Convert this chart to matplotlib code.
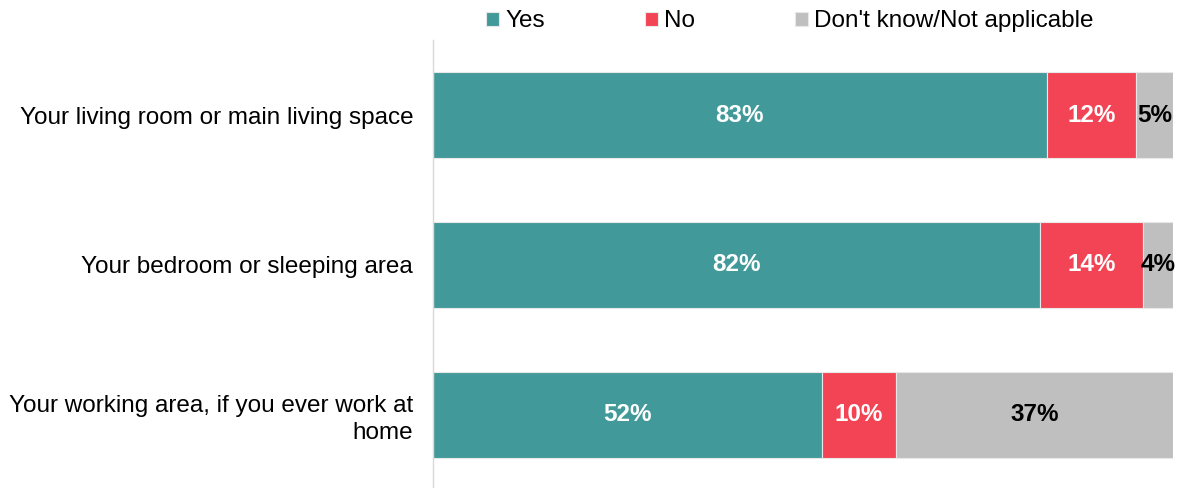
import matplotlib.pyplot as plt
import numpy as np

plt.rcParams['font.family'] = ['Liberation Sans', 'DejaVu Sans']

categories = ["Your living room or main living space",
              "Your bedroom or sleeping area",
              "Your working area, if you ever work at\nhome"]
series_names = ["Yes", "No", "Don't know/Not applicable"]
yes_pct = [83, 82, 52]
no_pct = [12, 14, 10]
dk_pct = [5, 4, 37]

colors = ["#419A99", "#F24455", "#BFBFBF"]
text_colors = ["white", "white", "black"]

fig = plt.figure(figsize=(11.79, 4.88), dpi=100)
ax = fig.add_axes([0.367, 0.0, 0.628, 0.918])

data = np.array([yes_pct, no_pct, dk_pct], dtype=float)
# rounded shares don't always add to 100, so scale each bar to fill the row
totals = data.sum(axis=0)
shares = data / totals * 100
y = np.arange(len(categories))
left = np.zeros(len(categories))
for i, name in enumerate(series_names):
    bars = ax.barh(y, shares[i], left=left, height=0.573, color=colors[i],
                   edgecolor="#E8E8E8", linewidth=0.8, label=name)
    for j, b in enumerate(bars):
        cx = b.get_x() + b.get_width() / 2
        ax.text(cx, y[j], f"{int(data[i, j])}%", ha="center", va="center",
                fontsize=17.5, fontweight="bold", color=text_colors[i])
    left += shares[i]

ax.set_xlim(0, 100)
ax.set_ylim(2.487, -0.5)
ax.set_yticks(y)
ax.set_yticklabels(categories, fontsize=17.5, color="black", linespacing=1.25)
ax.tick_params(axis="y", length=0, pad=14)
ax.set_xticks([])
for s in ["top", "right", "bottom"]:
    ax.spines[s].set_visible(False)
ax.spines["left"].set_color("#D9D9D9")
ax.spines["left"].set_linewidth(1.0)

fig.legend(loc="center", bbox_to_anchor=(0.670, 0.956), ncol=3, frameon=False,
           fontsize=17.5, handlelength=0.55, handleheight=0.55, handletextpad=0.25,
           columnspacing=4.1)

fig.savefig("out.png", dpi=100)
